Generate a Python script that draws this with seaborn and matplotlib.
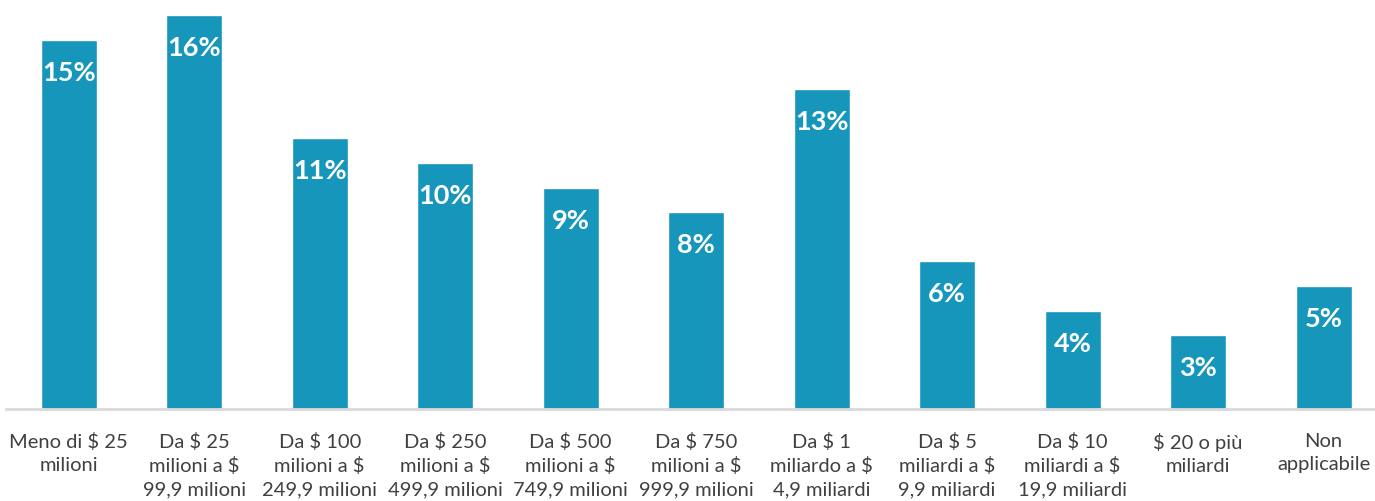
import matplotlib
matplotlib.use("Agg")
import matplotlib.pyplot as plt
import seaborn as sns
import pandas as pd

categories = [
    "Meno di $ 25\nmilioni",
    "Da $ 25\nmilioni a $\n99,9 milioni",
    "Da $ 100\nmilioni a $\n249,9 milioni",
    "Da $ 250\nmilioni a $\n499,9 milioni",
    "Da $ 500\nmilioni a $\n749,9 milioni",
    "Da $ 750\nmilioni a $\n999,9 milioni",
    "Da $ 1\nmiliardo a $\n4,9 miliardi",
    "Da $ 5\nmiliardi a $\n9,9 miliardi",
    "Da $ 10\nmiliardi a $\n19,9 miliardi",
    "$ 20 o più\nmiliardi",
    "Non\napplicabile",
]
values = [15, 16, 11, 10, 9, 8, 13, 6, 4, 3, 5]

sns.set_theme(style="white")
plt.rcParams["font.family"] = ["Lato", "DejaVu Sans"]

df = pd.DataFrame({"cat": categories, "val": values})

W, H = 1375, 502
fig = plt.figure(figsize=(W / 100, H / 100), dpi=100)
ax = fig.add_axes([6 / W, (H - 410) / H, (W - 6) / W, 410 / H])

sns.barplot(data=df, x="cat", y="val", color="#1596BA", saturation=1,
            width=0.446, ax=ax)

ax.set_ylim(0, 410 / 24.6)
ax.set_xlim(-0.5, 10.41)
ax.set_xlabel("")
ax.set_ylabel("")
ax.set_yticks([])
for s in ["top", "right", "left"]:
    ax.spines[s].set_visible(False)
ax.spines["bottom"].set_color("#D9D9D9")
ax.spines["bottom"].set_linewidth(2)
ax.tick_params(axis="x", length=0, pad=16.5, labelsize=14.5, colors="#404040")
for lbl in ax.get_xticklabels():
    lbl.set_linespacing(1.42)

for i, v in enumerate(values):
    ax.annotate(f"{v}%", (i, v), xytext=(0, -23), textcoords="offset points",
                ha="center", va="center", color="white", fontsize=19.5,
                fontweight="bold")

fig.savefig("out.png", dpi=100)
